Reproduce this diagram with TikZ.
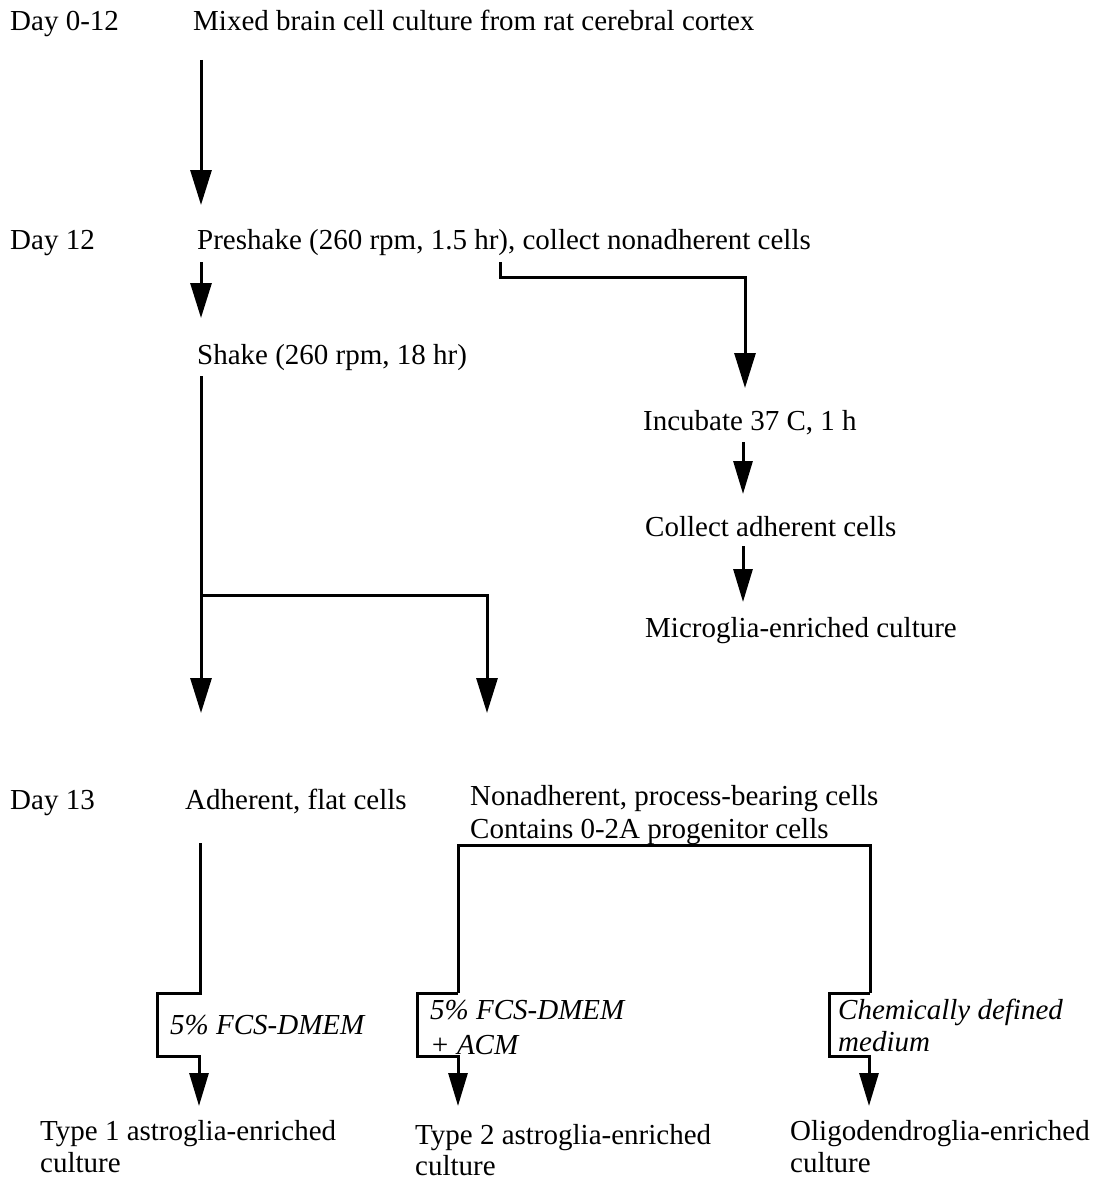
\documentclass[tikz,border=0pt]{standalone}
\usepackage{fontspec}
\setmainfont{Liberation Serif}
\usetikzlibrary{arrows.meta}
\begin{document}
\begin{tikzpicture}[x=1pt,y=-1pt,
  txt/.style={anchor=base west,inner sep=0pt,font=\fontsize{29}{34}\selectfont},
  itx/.style={anchor=base west,inner sep=0pt,font=\fontsize{29}{34}\selectfont\itshape},
  conn/.style={line width=3pt},
  arr/.style={line width=3pt,-{Triangle[length=35pt,width=21pt]}},
  arrs/.style={line width=3pt,-{Triangle[length=33pt,width=19pt]}}]
\useasboundingbox[fill=white] (0,0) rectangle (1101,1180);
% texts
\node[txt] (d0) at (10,31) {Day 0-12};
\node[txt] (mixed) at (193,31) {Mixed brain cell culture from rat cerebral cortex};
\node[txt] (d12) at (10,249) {Day 12};
\node[txt] (pre) at (197,249) {Preshake (260 rpm, 1.5 hr), collect nonadherent cells};
\node[txt] (shake) at (197,364) {Shake (260 rpm, 18 hr)};
\node[txt] (inc) at (643,430) {Incubate 37 C, 1 h};
\node[txt] (coll) at (645,536) {Collect adherent cells};
\node[txt] (micro) at (645,637) {Microglia-enriched culture};
\node[txt] (d13) at (10,809) {Day 13};
\node[txt] (adh) at (185,809) {Adherent, flat cells};
\node[txt] (non1) at (470,805) {Nonadherent, process-bearing cells};
\node[txt] (non2) at (470,838) {Contains 0-2A progenitor cells};
\node[itx] (m1) at (170,1034) {5\% FCS-DMEM};
\node[itx] (m2a) at (430,1019) {5\% FCS-DMEM};
\node[itx] (m2b) at (430,1054) {+ ACM};
\node[itx] (m3a) at (838,1019) {Chemically defined};
\node[itx] (m3b) at (838,1051) {medium};
\node[txt] (t1a) at (40,1140) {Type 1 astroglia-enriched};
\node[txt] (t1b) at (40,1172) {culture};
\node[txt] (t2a) at (415,1144) {Type 2 astroglia-enriched};
\node[txt] (t2b) at (415,1175) {culture};
\node[txt] (t3a) at (790,1140) {Oligodendroglia-enriched};
\node[txt] (t3b) at (790,1172) {culture};
% coordinates
\coordinate (a1s) at (201,60);  \coordinate (a1e) at (201,205);
\coordinate (a2s) at (201,262); \coordinate (a2e) at (201,318);
\coordinate (b1) at (500,262); \coordinate (b2) at (500,277); \coordinate (b3) at (745,277); \coordinate (b4) at (745,388);
\coordinate (c1s) at (743,442); \coordinate (c1e) at (743,494);
\coordinate (c2s) at (743,546); \coordinate (c2e) at (743,602);
\coordinate (s1) at (201,376); \coordinate (s2) at (201,595); \coordinate (s3) at (201,713);
\coordinate (s4) at (487,595); \coordinate (s5) at (487,713);
\coordinate (p1) at (200,843); \coordinate (p2) at (200,993); \coordinate (p3) at (157,993);
\coordinate (p4) at (157,1056); \coordinate (p5) at (199,1056); \coordinate (p6) at (199,1106);
\coordinate (q1) at (458,845); \coordinate (q2) at (870,845);
\coordinate (q3) at (458,993); \coordinate (q4) at (417,993); \coordinate (q5) at (417,1056);
\coordinate (q6) at (458,1056); \coordinate (q7) at (458,1106);
\coordinate (r3) at (870,993); \coordinate (r4) at (829,993); \coordinate (r5) at (829,1056);
\coordinate (r6) at (869,1056); \coordinate (r7) at (869,1106);
% connectors
\draw[arr] (a1s) -- (a1e);
\draw[arr] (a2s) -- (a2e);
\draw[arr] (b1) -- (b2) -- (b3) -- (b4);
\draw[arrs] (c1s) -- (c1e);
\draw[arrs] (c2s) -- (c2e);
\draw[arr] (s1) -- (s3);
\draw[arr] (s2) -- (s4) -- (s5);
\draw[arrs] (p1) -- (p2) -- (p3) -- (p4) -- (p5) -- (p6);
\draw[conn] (q3) -- (q1) -- (q2) -- (r3);
\draw[arrs] (q3) -- (q4) -- (q5) -- (q6) -- (q7);
\draw[arrs] (r3) -- (r4) -- (r5) -- (r6) -- (r7);
\end{tikzpicture}
\end{document}
